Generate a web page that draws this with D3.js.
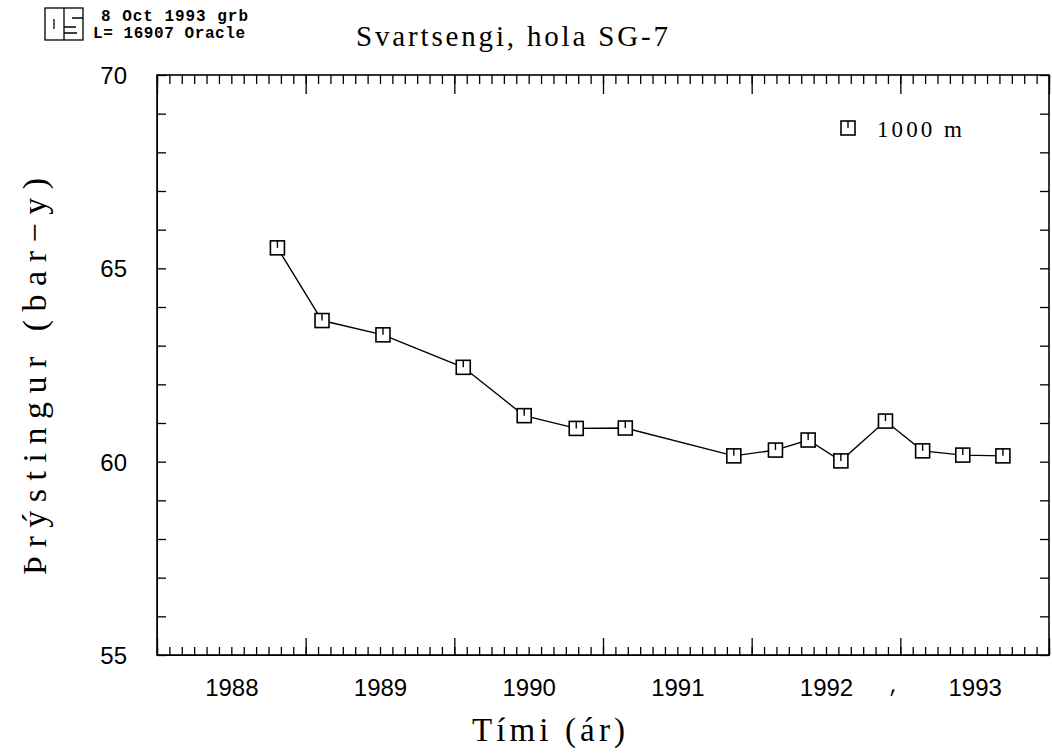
<!DOCTYPE html>
<meta charset="utf-8">
<html lang="is">
<style>
body { margin: 0; background: #fff; }
svg { display: block; }
.frame { fill: none; stroke: #000; stroke-width: 1.6px; }
.axis path { display: none; }
.axis line { stroke: #000; stroke-width: 1.3px; }
.ticklab text { font: 24px "Liberation Sans", Arial, sans-serif; fill: #000; }
.ticklab line { display: none; }
.line { fill: none; stroke: #000; stroke-width: 1.4px; }
.mark { fill: #fff; stroke: #000; stroke-width: 1.6px; }
.mono { font-family: "Liberation Mono", "Courier New", monospace; fill: #000; }
.serif { font-family: "Liberation Serif", "Times New Roman", serif; fill: #000; }
</style>
<body>
<div id="chart"></div>
<script src="https://cdn.jsdelivr.net/npm/d3@7"></script>
<script>
// measured points, Svartsengi SG-7 at 1000 m
var years = [1988.81, 1989.11, 1989.52, 1990.06, 1990.47, 1990.82, 1991.15,
             1991.88, 1992.16, 1992.38, 1992.60, 1992.90, 1993.15, 1993.42, 1993.69];
var pressure = [65.53, 63.65, 63.28, 62.44, 61.19, 60.86, 60.87,
                60.15, 60.30, 60.56, 60.02, 61.05, 60.28, 60.17, 60.15];
var yearLabels = [1988, 1989, 1990, 1991, 1992, 1993];
var yLabels = [55, 60, 65, 70];

var width = 1052, height = 755,
    margin = {top: 75, right: 3, bottom: 100, left: 157};
var w = width - margin.left - margin.right,
    h = height - margin.top - margin.bottom;

var x = d3.scaleLinear().domain([1988, 1994]).range([0, w]);
var y = d3.scaleLinear().domain([55, 70]).range([h, 0]);

var svg = d3.select("#chart").append("svg")
    .attr("width", width).attr("height", height);
var g = svg.append("g").attr("transform", "translate(" + margin.left + "," + margin.top + ")");

var months = d3.range(0, 73).map(function(i) { return 1988 + i / 12; });
var yminor = d3.range(55, 71);

// month ticks, bottom and top
g.append("g").attr("class", "axis").attr("transform", "translate(0," + h + ")")
  .call(d3.axisBottom(x).tickValues(months).tickSize(-8).tickFormat(""));
g.append("g").attr("class", "axis")
  .call(d3.axisTop(x).tickValues(months).tickSize(-9).tickFormat(""));
// year ticks
g.append("g").attr("class", "axis").attr("transform", "translate(0," + h + ")")
  .call(d3.axisBottom(x).tickValues(d3.range(1988, 1995)).tickSize(-17).tickFormat(""));
g.append("g").attr("class", "axis")
  .call(d3.axisTop(x).tickValues(d3.range(1988, 1995)).tickSize(-19).tickFormat(""));
// y ticks, left and right
g.append("g").attr("class", "axis")
  .call(d3.axisLeft(y).tickValues(yminor).tickSize(-9).tickFormat(""));
g.append("g").attr("class", "axis").attr("transform", "translate(" + w + ",0)")
  .call(d3.axisRight(y).tickValues(yminor).tickSize(-9).tickFormat(""));

// year labels centred in each year
g.append("g").attr("class", "ticklab").attr("transform", "translate(0," + h + ")")
  .call(d3.axisBottom(x).tickValues(yearLabels.map(function(d) { return d + 0.5; }))
        .tickSize(0).tickPadding(24).tickFormat(function(d) { return Math.floor(d); }));
g.append("g").attr("class", "ticklab")
  .call(d3.axisLeft(y).tickValues(yLabels).tickSize(0).tickPadding(30).tickFormat(d3.format("d")))
  .selectAll("text").attr("dy", "0.35em");

g.append("rect").attr("class", "frame").attr("width", w).attr("height", h);

// data line + markers
var line = d3.line()
  .x(function(d, i) { return x(years[i]); })
  .y(function(d) { return y(d); });
g.append("path").datum(pressure).attr("class", "line").attr("d", line);

function marker(sel) {
  sel.append("rect").attr("class", "mark")
    .attr("x", -7).attr("y", -7).attr("width", 14).attr("height", 14);
  sel.append("line").attr("x1", 0).attr("y1", -7).attr("x2", 0).attr("y2", 0)
    .attr("stroke", "#000").attr("stroke-width", 1.4);
}
g.selectAll(".pt").data(pressure).enter().append("g").attr("class", "pt")
  .attr("transform", function(d, i) { return "translate(" + x(years[i]) + "," + y(d) + ")"; })
  .call(marker);

// legend
svg.append("g").attr("transform", "translate(848,128)").call(marker);
svg.append("text").attr("class", "serif").attr("x", 877).attr("y", 137)
  .style("font-size", "23px").attr("textLength", 85).attr("lengthAdjust", "spacing")
  .text("1000 m");

// titles
svg.append("text").attr("class", "serif").attr("x", 356).attr("y", 46)
  .style("font-size", "29px").attr("textLength", 312).attr("lengthAdjust", "spacing")
  .text("Svartsengi, hola SG-7");
svg.append("text").attr("class", "serif").attr("x", 472).attr("y", 741)
  .style("font-size", "33px").attr("textLength", 153).attr("lengthAdjust", "spacing")
  .text("Tími (ár)");
svg.append("text").attr("class", "serif")
  .attr("transform", "translate(46,575) rotate(-90)")
  .style("font-size", "34px").attr("textLength", 397).attr("lengthAdjust", "spacing")
  .text("Þrýstingur (bar\u2212y)");
svg.append("text").attr("class", "mono").attr("x", 888).attr("y", 692)
  .style("font-size", "20px").text(",");

// header stamp
var stamp = svg.append("g").attr("fill", "none").attr("stroke", "#000").attr("stroke-width", 1.3);
stamp.append("rect").attr("x", 45).attr("y", 8).attr("width", 38).attr("height", 32);
stamp.append("path").attr("d", "M64,8V40 M54,19V29 M72,18H83 M64,27H76 M64,33H77");
svg.append("text").attr("class", "mono").attr("x", 101).attr("y", 21)
  .style("font-size", "16px").style("font-weight", "bold")
  .attr("textLength", 147).attr("lengthAdjust", "spacing").text("8 Oct 1993 grb");
svg.append("text").attr("class", "mono").attr("x", 93).attr("y", 38)
  .style("font-size", "16px").style("font-weight", "bold")
  .attr("textLength", 152).attr("lengthAdjust", "spacing").text("L= 16907 Oracle");
</script>
</body>
</html>
